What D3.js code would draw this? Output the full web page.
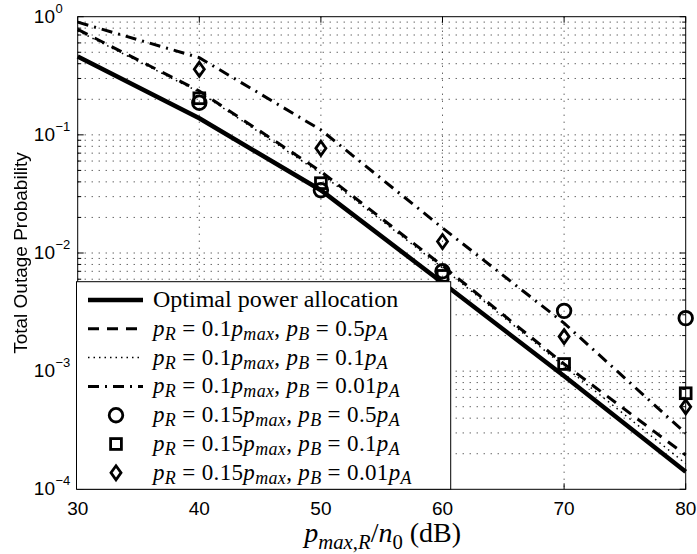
<!DOCTYPE html>
<html><head><meta charset="utf-8">
<script src="https://cdn.jsdelivr.net/npm/d3@7"></script>
<style>body{margin:0;background:#fff}</style>
</head><body>
<svg id="chart" width="697" height="554"></svg>
<script>
// SNR grid (dB) and outage probabilities for each allocation scheme
const snrDb = [30, 40, 50, 60, 70, 80];
const optimalAlloc   = [0.46, 0.138, 0.034, 0.0056, 0.00091, 0.000141];
const fixedR01B05    = [0.78, 0.235, 0.049, 0.0078, 0.00115, 0.000195];
const fixedR01B01    = [0.76, 0.230, 0.047, 0.0075, 0.00110, 0.000165];
const fixedR01B001   = [0.90, 0.450, 0.110, 0.0163, 0.00255, 0.000298];
const markerSnrDb = [40, 50, 60, 70, 80];
const fixedR015B05   = [0.187, 0.034, 0.0070, 0.00324, 0.00281];
const fixedR015B01   = [0.204, 0.039, 0.0064, 0.00115, 0.00065];
const fixedR015B001  = [0.359, 0.077, 0.0125, 0.00196, 0.00050];
const xTicks = [30, 40, 50, 60, 70, 80];
const yDecades = [-4, -3, -2, -1, 0];
const legendLabels = [
  "Optimal power allocation",
  "p_{R} = 0.1p_{max}, p_{B} = 0.5p_{A}",
  "p_{R} = 0.1p_{max}, p_{B} = 0.1p_{A}",
  "p_{R} = 0.1p_{max}, p_{B} = 0.01p_{A}",
  "p_{R} = 0.15p_{max}, p_{B} = 0.5p_{A}",
  "p_{R} = 0.15p_{max}, p_{B} = 0.1p_{A}",
  "p_{R} = 0.15p_{max}, p_{B} = 0.01p_{A}"
];
const xLabel = "p_{max,R}/n_{0} (dB)";
const yLabel = "Total Outage Probability";

const svg = d3.select("#chart");
const L = 77.7, R = 685.7, T = 16.7, B = 489.3;
const x = d3.scaleLinear().domain([30, 80]).range([L, R]);
const y = d3.scaleLog().domain([1e-4, 1]).range([B, T]);
const sans = "'Liberation Sans', Arial, Helvetica, sans-serif";
const serif = "'Liberation Serif', 'Times New Roman', serif";

// greyscale filter for rotated text
svg.append("defs").append("filter").attr("id", "mono")
  .append("feColorMatrix").attr("type", "saturate").attr("values", 0);

svg.append("rect").attr("width", 697).attr("height", 554).attr("fill", "#fff");

// grid: major + minor on log axis, major on linear axis
const gridY = [];
for (let d = -4; d < 0; d++) for (let m = 1; m <= 9; m++) gridY.push(m * Math.pow(10, d));
const grid = svg.append("g").attr("stroke", "#222").attr("stroke-width", 1)
  .attr("stroke-dasharray", "1,6").attr("fill", "none");
grid.selectAll("line.h").data(gridY.filter(v => v > 1e-4)).join("line")
  .attr("x1", L).attr("x2", R).attr("y1", d => y(d)).attr("y2", d => y(d));
grid.selectAll("line.v").data(xTicks.slice(1, -1)).join("line")
  .attr("class", "v")
  .attr("x1", d => x(d)).attr("x2", d => x(d)).attr("y1", T).attr("y2", B);

// curves
const line = d3.line().x(d => x(d[0])).y(d => y(d[1]));
const curves = [
  { v: optimalAlloc, w: 4.5, dash: null },
  { v: fixedR01B05, w: 3, dash: "11,8" },
  { v: fixedR01B01, w: 1.5, dash: "1.5,4" },
  { v: fixedR01B001, w: 3, dash: "11,6,2,6" }
];
const plot = svg.append("g");
curves.forEach(c => {
  plot.append("path").datum(snrDb.map((s, i) => [s, c.v[i]]))
    .attr("d", line).attr("fill", "none").attr("stroke", "#000")
    .attr("stroke-width", c.w).attr("stroke-dasharray", c.dash);
});

// markers
function drawMarker(g, type) {
  g.attr("fill", "none").attr("stroke", "#000").attr("stroke-width", 2.8);
  if (type === "circle") g.append("circle").attr("r", 6.8);
  else if (type === "square") g.append("rect").attr("x", -5.4).attr("y", -5.4).attr("width", 10.8).attr("height", 10.8);
  else g.append("path").attr("d", "M0,-7 L5,0 L0,7 L-5,0 Z");
}
const markerSets = [
  { v: fixedR015B05, type: "circle" },
  { v: fixedR015B01, type: "square" },
  { v: fixedR015B001, type: "diamond" }
];
markerSets.forEach(ms => {
  markerSnrDb.forEach((s, i) => {
    drawMarker(plot.append("g").attr("transform", `translate(${x(s)},${y(ms.v[i])})`), ms.type);
  });
});

// frame and inward ticks
const ax = svg.append("g").attr("stroke", "#000").attr("stroke-width", 1);
ax.append("rect").attr("x", L).attr("y", T).attr("width", R - L).attr("height", B - T).attr("fill", "none");
xTicks.forEach(t => {
  ax.append("line").attr("x1", x(t)).attr("x2", x(t)).attr("y1", B).attr("y2", B - 6);
  ax.append("line").attr("x1", x(t)).attr("x2", x(t)).attr("y1", T).attr("y2", T + 6);
});
gridY.concat([1]).forEach(v => {
  const major = Math.abs(Math.log10(v) - Math.round(Math.log10(v))) < 1e-9;
  const len = major ? 6 : 3.5;
  ax.append("line").attr("x1", L).attr("x2", L + len).attr("y1", y(v)).attr("y2", y(v));
  ax.append("line").attr("x1", R).attr("x2", R - len).attr("y1", y(v)).attr("y2", y(v));
});

// tick labels
const tl = svg.append("g").attr("font-family", sans).attr("fill", "#000");
xTicks.forEach(t => {
  tl.append("text").attr("x", x(t)).attr("y", 515).attr("text-anchor", "middle")
    .attr("font-size", 19).text(t);
});
yDecades.forEach(d => {
  const yy = y(Math.pow(10, d));
  tl.append("text").attr("x", 55).attr("y", yy + 6).attr("text-anchor", "end")
    .attr("font-size", 19).text("10");
  tl.append("text").attr("x", 55.5).attr("y", yy - 4).attr("font-size", 13)
    .text(d < 0 ? "\u2212" + Math.abs(d) : String(d));
});

// y axis title
svg.append("g").attr("filter", "url(#mono)")
  .append("text").attr("transform", `translate(27,${(T + B) / 2}) rotate(-90)`)
  .attr("text-anchor", "middle").attr("font-family", sans).attr("font-size", 19)
  .attr("fill", "#000").text(yLabel);

// TeX-like label: letters italic in math mode, _{..} subscripts
function mathLabel(sel, src, size, subRatio, subShift) {
  const pieces = [];
  let i = 0;
  const push = (ch, sub) => {
    const it = /[A-Za-z]/.test(ch);
    const last = pieces[pieces.length - 1];
    if (last && last.sub === sub && last.it === it) last.t += ch;
    else pieces.push({ t: ch, sub, it });
  };
  while (i < src.length) {
    if (src[i] === "_") {
      let j = src.indexOf("}", i);
      src.slice(i + 2, j).split("").forEach(ch => push(ch, true));
      i = j + 1;
    } else if (src[i] === "(") {
      // trailing unit in upright text
      pieces.push({ t: src.slice(i), sub: false, it: false });
      break;
    } else { push(src[i], false); i++; }
  }
  let shift = 0;
  pieces.forEach(p => {
    const ts = sel.append("tspan").text(p.t.replace(/ /g, "\u00a0"));
    const target = p.sub ? size * subShift : 0;
    if (target !== shift) ts.attr("dy", target - shift);
    shift = target;
    ts.attr("font-size", p.sub ? size * subRatio : size);
    if (p.it) ts.attr("font-style", "italic");
  });
}

svg.append("text").attr("x", (L + R) / 2 + 1).attr("y", 542).attr("text-anchor", "middle")
  .attr("font-family", serif).attr("fill", "#000")
  .call(s => mathLabel(s, xLabel, 28, 0.74, 0.26));

// legend
const lg = svg.append("g");
const lgL = 76.5, lgT = 281.7, lgR = 450.7, lgB = B;
lg.append("rect").attr("x", lgL).attr("y", lgT).attr("width", lgR - lgL).attr("height", lgB - lgT)
  .attr("fill", "#fff").attr("stroke", "#000").attr("stroke-width", 1);
const rowY = d3.range(7).map(i => 300 + i * 28.8);
curves.forEach((c, i) => {
  lg.append("line").attr("x1", 88).attr("x2", 143).attr("y1", rowY[i]).attr("y2", rowY[i])
    .attr("stroke", "#000").attr("stroke-width", c.w).attr("stroke-dasharray", c.dash);
});
markerSets.forEach((ms, i) => {
  drawMarker(lg.append("g").attr("transform", `translate(116,${rowY[4 + i]})`), ms.type);
});
legendLabels.forEach((lab, i) => {
  const t = lg.append("text").attr("x", 153).attr("y", rowY[i] + 7)
    .attr("font-family", serif).attr("fill", "#000");
  if (i === 0) t.attr("font-size", 24).text(lab);
  else mathLabel(t.attr("letter-spacing", 0.35), lab, 23, 0.78, 0.17);
});
</script>
</body></html>
